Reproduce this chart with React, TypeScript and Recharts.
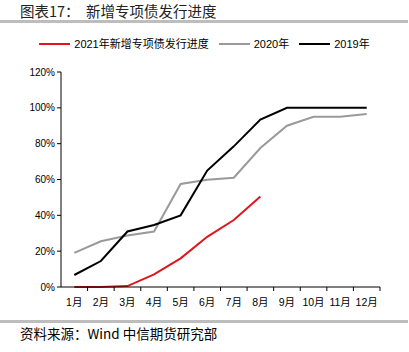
import { LineChart, Line, XAxis, YAxis } from 'recharts'

const months = ['1月', '2月', '3月', '4月', '5月', '6月', '7月', '8月', '9月', '10月', '11月', '12月']
const y2021 = [0, 0, 0.5, 7, 16, 28, 37.4, 50.5, null, null, null, null]
const y2020 = [19, 25.5, 28.8, 31, 57.5, 59.8, 61, 77.6, 90, 95, 95, 96.5]
const y2019 = [6.7, 14.5, 31, 34.6, 40, 65, 78.5, 93.5, 100, 100, 100, 100]
const yTicks = [0, 20, 40, 60, 80, 100, 120]

const data = months.map((m, i) => ({
  month: m,
  '2021年新增专项债发行进度': y2021[i],
  '2020年': y2020[i],
  '2019年': y2019[i],
}))

const series = [
  { key: '2021年新增专项债发行进度', color: '#e0161c' },
  { key: '2020年', color: '#9a9a9a' },
  { key: '2019年', color: '#000000' },
]

const cjk = '"Liberation Sans", "Noto Sans CJK SC", sans-serif'
const bandWidth = 319 / 12

// x ticks sit on the category boundaries, labels in the middle
const MonthTick = (props: any) => {
  const { x, y, payload } = props
  return (
    <g>
      <line x1={x + bandWidth / 2} y1={y - 8} x2={x + bandWidth / 2} y2={y - 4} stroke="#000" />
      <text x={x} y={y + 11} textAnchor="middle" fontSize={10.5} fill="#000" fontFamily={cjk}>
        {payload.value}
      </text>
    </g>
  )
}

const LegendBox = () => (
  <div style={{ position: 'absolute', left: 0, top: 36, width: 409, display: 'flex', justifyContent: 'center', alignItems: 'center', fontFamily: cjk, fontSize: 11, color: '#000', lineHeight: '16px' }}>
    {series.map((s) => (
      <div key={s.key} style={{ display: 'flex', alignItems: 'center', margin: '0 5px' }}>
        <div style={{ width: 31, height: 2, background: s.color, marginRight: 4 }} />
        <span>{s.key}</span>
      </div>
    ))}
  </div>
)

export default function App() {
  return (
    <div style={{ position: 'absolute', left: 0, top: 0, width: 409, height: 352, background: '#fff', fontFamily: cjk }}>
      <div style={{ position: 'absolute', left: 20, top: 2, fontSize: 14.5, color: '#222', whiteSpace: 'pre', fontFamily: '"Noto Sans CJK SC", sans-serif', lineHeight: '18px' }}>
        图表17：  新增专项债发行进度
      </div>
      <div style={{ position: 'absolute', left: 0, top: 20, width: 408, height: 3, background: '#bdbdbd' }} />
      <LineChart
        width={409}
        height={352}
        data={data}
        margin={{ top: 72, right: 29, left: 21, bottom: 45 }}
      >
        <XAxis
          dataKey="month"
          axisLine={{ stroke: '#000' }}
          tickLine={false}
          tick={<MonthTick />}
          interval={0}
          height={20}
          padding={{ left: bandWidth / 2, right: bandWidth / 2 }}
        />
        <YAxis
          domain={[0, 120]}
          ticks={yTicks}
          tickFormatter={(v) => `${v}%`}
          axisLine={{ stroke: '#000' }}
          tickLine={{ stroke: '#000' }}
          tickSize={4}
          width={40}
          tick={{ fontSize: 10, fill: '#000', fontFamily: cjk }}
        />
        {series.map((s) => (
          <Line
            key={s.key}
            dataKey={s.key}
            stroke={s.color}
            strokeWidth={2}
            dot={false}
            type="linear"
            isAnimationActive={false}
          />
        ))}
      </LineChart>
      <LegendBox />
      <div style={{ position: 'absolute', left: 0, top: 320, width: 408, height: 3, background: '#bdbdbd' }} />
      <div style={{ position: 'absolute', left: 20, top: 324, fontSize: 13.5, color: '#000', whiteSpace: 'pre', fontFamily: '"Noto Sans CJK SC", sans-serif', lineHeight: '18px' }}>
        资料来源：Wind 中信期货研究部
      </div>
    </div>
  )
}
